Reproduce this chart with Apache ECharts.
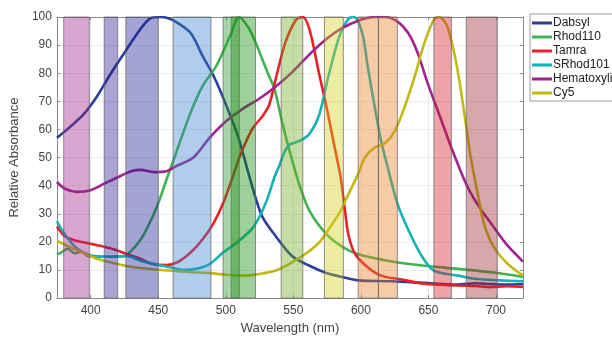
<!DOCTYPE html>
<html><head><meta charset="utf-8">
<script src="https://cdn.jsdelivr.net/npm/echarts@6/dist/echarts.min.js"></script>
<style>html,body{margin:0;padding:0;background:#fff}#c{width:612px;height:340px}</style>
</head><body><div id="c"></div>
<script>
// ---- data ----
const xTicks = [400, 450, 500, 550, 600, 650, 700];
const seriesNames = ['Dabsyl', 'Rhod110', 'Tamra', 'SRhod101', 'Hematoxylin', 'Cy5'];

const dabsylWl  = [375,385,395,405,415,425,435,444,451,458,464,474,483,491,500,508,513,520,527,537,549,562,574,586,598,623,647,671,685,696,708,720];
const dabsylAbs = [57,61,65.5,72,80,87.3,94.5,99.5,100,99.5,98,94.3,86,79,69,59,51,39,29,22,15,11.5,9,7.5,6.3,6,5.4,4.8,5.3,5,4.8,5];

const rhodWl  = [375,378,383,388,393,398,403,415,425,430,435,440,449,456,462,474,483,493,503,510,517,522,527,532,536,542,548,554,562,574,586,598,623,647,672,696,710,720];
const rhodAbs = [15.5,16.2,17.6,16,16.5,15,14.7,14.7,15,16.8,19.5,23.2,32.5,42,50,66,75.6,82.6,93,100,96,91,85,79,74.5,62,51,41,31,23,18.3,15.6,13,11.5,10.4,9.2,8.3,7.5];

const tamraWl  = [375,381,388,398,408,417,427,437,447,456,464,474,483,491,498,505,510,513,520,527,532,537,544,552,557,562,569,575,580,585,588,591,596,605,615,630,647,671,685,696,708,720];
const tamraAbs = [25.5,22,20.6,19.5,18.5,17.4,15.6,13.9,12,11.8,12.7,16.2,21,26.7,33.7,43,50,53.5,60.5,64.6,68.6,78,90.8,99,100,95.5,80,67,55,43,32,22,15.5,11,8,6.6,5.1,4.5,4.3,3.9,4.2,4];

const srhodWl  = [375,381,388,395,403,415,427,437,447,459,469,478,488,498,508,520,527,532,536,540,543,547,555,562,569,576,584,591,595,601,605,610,615,618,627,635,645,654,672,684,703,720];
const srhodAbs = [27.3,22.6,18.5,16.2,15,14.7,15,13.3,12.1,10.9,10,10.4,12.1,16.2,19.7,25,31,37,43,47.5,51.5,54.5,56,58.5,65,79,93,99.5,100,94.3,82.6,68.6,55.8,50,33.7,24.4,15,9.8,8,6.9,6.3,6];

const hemaWl  = [375,381,390,400,410,420,430,437,447,456,464,476,488,500,513,525,537,549,562,574,586,598,610,618,627,635,642,649,659,669,679,689,698,708,720];
const hemaAbs = [41.3,38.9,37.8,38.4,40.7,43,45.1,45.6,44.8,45.1,47.1,50,57,62.8,67.5,71,75.3,80.3,86.7,92,96,98.7,100,100,98.4,94.3,87.3,77,64,51,39.5,31.4,25.5,19,13];

const cy5Wl  = [375,386,395,405,415,427,439,452,464,476,488,500,513,525,537,549,562,569,576,584,591,598,603,610,618,625,632,640,647,654,658,664,671,676,681,686,691,698,708,720];
const cy5Abs = [20.3,17.9,16,13.9,12.7,11.3,10.6,10,9.6,9.2,8.9,8.3,8,8.6,9.8,12.7,16.8,19.7,24.4,30.2,37.2,44.2,50,53.5,55.2,59.3,67.5,79.1,90.8,99,100,96.6,82.6,67.5,51,38.4,26.7,18.5,12.5,8];

const bandStart = [380, 410, 426, 461, 498, 504, 541, 573, 598, 613, 654, 678];
const bandEnd   = [399, 420, 450, 489, 510, 522, 557, 587, 613, 627, 667, 701];

// ---- styles ----
const lineColors = ['#2a3f98', '#3fb34f', '#ee1f26', '#13b3b5', '#a0238f', '#c2b914'];
const bandColors = [
  'rgba(157,32,135,0.4)', 'rgba(45,25,142,0.4)', 'rgba(27,27,147,0.4)', 'rgba(57,130,207,0.4)',
  'rgba(40,152,45,0.4)', 'rgba(17,137,2,0.4)', 'rgba(112,172,32,0.4)', 'rgba(212,205,30,0.4)',
  'rgba(232,127,37,0.4)', 'rgba(232,127,37,0.4)', 'rgba(207,27,37,0.4)', 'rgba(152,37,45,0.4)'
];
const FONT = 'Liberation Sans';
const axisGray = '#8a8a8a';
const labelGray = '#444';

const wls = [dabsylWl, rhodWl, tamraWl, srhodWl, hemaWl, cy5Wl];
const abss = [dabsylAbs, rhodAbs, tamraAbs, srhodAbs, hemaAbs, cy5Abs];

const chart = echarts.init(document.getElementById('c'), null, {renderer: 'canvas'});

const lineSeries = seriesNames.map((n, i) => ({
  name: n, type: 'line', xAxisIndex: 0, yAxisIndex: 0,
  data: wls[i].map((w, j) => [w, abss[i][j]]),
  showSymbol: false, smooth: 0.3,
  lineStyle: {width: 2.6, color: lineColors[i]}, itemStyle: {color: lineColors[i]},
  z: 2, silent: true
}));

const bandSeries = {
  type: 'custom', xAxisIndex: 0, yAxisIndex: 0, z: 5, silent: true,
  data: bandStart.map((s, i) => [s, bandEnd[i]]),
  encode: {x: [0, 1]},
  renderItem: (params, api) => {
    const p0 = api.coord([api.value(0), 100]);
    const p1 = api.coord([api.value(1), 0]);
    return {
      type: 'rect',
      shape: {x: p0[0], y: p0[1], width: p1[0] - p0[0], height: p1[1] - p0[1]},
      style: {fill: bandColors[params.dataIndex], stroke: 'rgba(100,100,100,0.7)', lineWidth: 1}
    };
  }
};

const option = {
  backgroundColor: '#fff',
  animation: false,
  grid: {left: 52, right: 89, top: 17, bottom: 37},
  legend: {
    orient: 'vertical', left: 530, top: 14,
    data: seriesNames,
    icon: 'rect', itemWidth: 20, itemHeight: 3, itemGap: 0,
    padding: [2, 30, 1, 2],
    borderColor: '#9a9a9a', borderWidth: 1,
    textStyle: {fontFamily: FONT, fontSize: 12, color: '#222', lineHeight: 14, padding: [0, 0, 0, -4]}
  },
  xAxis: [{
    type: 'value', min: 375, max: 720, position: 'bottom',
    name: 'Wavelength (nm)', nameLocation: 'middle', nameGap: 23,
    nameTextStyle: {fontFamily: FONT, fontSize: 13, color: labelGray},
    axisLine: {show: true, onZero: false, lineStyle: {color: axisGray}},
    axisTick: {show: true, inside: true, length: 3, customValues: xTicks, lineStyle: {color: axisGray}},
    axisLabel: {customValues: xTicks, fontFamily: FONT, fontSize: 12, color: labelGray, margin: 7},
    splitLine: {show: true, lineStyle: {color: '#ececec'}}
  }, {
    type: 'value', min: 375, max: 720, position: 'top',
    axisLine: {show: true, onZero: false, lineStyle: {color: axisGray}},
    axisTick: {show: true, inside: true, length: 3, customValues: xTicks, lineStyle: {color: axisGray}},
    axisLabel: {show: false}, splitLine: {show: false}
  }],
  yAxis: [{
    type: 'value', min: 0, max: 100, interval: 10, position: 'left',
    name: 'Relative Absorbance', nameLocation: 'middle', nameGap: 27,
    nameTextStyle: {fontFamily: FONT, fontSize: 13, color: labelGray},
    axisLine: {show: true, onZero: false, lineStyle: {color: axisGray}},
    axisTick: {show: true, inside: true, length: 3, lineStyle: {color: axisGray}},
    axisLabel: {fontFamily: FONT, fontSize: 12, color: labelGray, margin: 5},
    splitLine: {show: true, lineStyle: {color: '#ececec'}}
  }, {
    type: 'value', min: 0, max: 100, interval: 10, position: 'right',
    axisLine: {show: true, onZero: false, lineStyle: {color: axisGray}},
    axisTick: {show: true, inside: true, length: 3, lineStyle: {color: axisGray}},
    axisLabel: {show: false}, splitLine: {show: false}
  }],
  series: [...lineSeries, bandSeries]
};
chart.setOption(option);
</script></body></html>
